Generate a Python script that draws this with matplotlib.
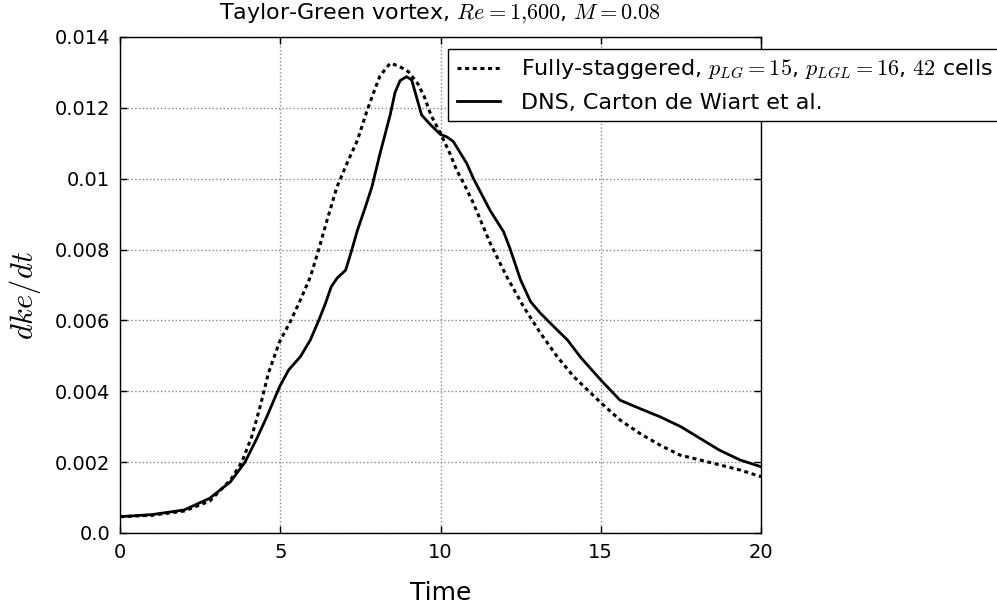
import matplotlib
matplotlib.use("Agg")
import matplotlib.pyplot as plt

plt.rcParams['font.family'] = ['DejaVu Sans']
plt.rcParams['mathtext.fontset'] = 'cm'

# Fully-staggered, p_LG=15, p_LGL=16, 42 cells (dotted)
t_fs = [0, 1, 2, 2.8, 3.45, 3.8, 4.11, 4.37, 4.63, 4.98, 5.31, 5.63, 5.94, 6.2, 6.46,
        6.77, 7.08, 7.41, 7.7, 7.9, 8.11, 8.43, 8.7, 9.0, 9.3, 9.5, 9.7, 10.0, 10.3,
        10.5, 10.72, 11.03, 11.55, 12.07, 12.59, 13.12, 13.64, 14.16, 15.0, 15.6,
        16.22, 16.85, 17.47, 18.1, 18.72, 19.34, 20.0]
v_fs = [0.00046, 0.0005, 0.00062, 0.0009, 0.0015, 0.002, 0.00272, 0.00356, 0.00451,
        0.0054, 0.00596, 0.00658, 0.00723, 0.008, 0.00883, 0.00977, 0.01043, 0.01109,
        0.0119, 0.0124, 0.0129, 0.01326, 0.01318, 0.01302, 0.01267, 0.0123, 0.0118,
        0.01128, 0.0107, 0.01025, 0.00988, 0.0093, 0.00818, 0.00723, 0.00639, 0.00564,
        0.00498, 0.00441, 0.00368, 0.00319, 0.00281, 0.00248, 0.0022, 0.00206, 0.00192,
        0.00178, 0.00159]

# DNS, Carton de Wiart et al. (solid)
t_dns = [0, 1, 2, 2.8, 3.45, 3.9, 4.27, 4.58, 4.98, 5.26, 5.63, 5.94, 6.2, 6.41, 6.59,
         6.77, 7.04, 7.2, 7.41, 7.66, 7.86, 8.11, 8.43, 8.58, 8.74, 8.94, 9.1, 9.25,
         9.41, 9.67, 10.0, 10.2, 10.4, 10.82, 11.03, 11.55, 11.97, 12.18, 12.5, 12.81,
         13.12, 13.54, 13.96, 14.38, 15.0, 15.6, 16.2, 16.85, 17.5, 18.1, 18.7, 19.35,
         20.0]
v_dns = [0.00046, 0.00052, 0.00065, 0.00098, 0.00145, 0.002, 0.00267, 0.00328, 0.00413,
         0.0046, 0.00498, 0.00545, 0.006, 0.00648, 0.00695, 0.00719, 0.00742, 0.00789,
         0.00855, 0.00921, 0.00977, 0.0107, 0.0118, 0.01243, 0.01277, 0.01288, 0.01279,
         0.01231, 0.0118, 0.01154, 0.01125, 0.01118, 0.01105, 0.01043, 0.0100, 0.0091,
         0.0085, 0.008, 0.00714, 0.00653, 0.0062, 0.00582, 0.00545, 0.00495, 0.00432,
         0.00375, 0.00352, 0.00328, 0.003, 0.00267, 0.00234, 0.00206, 0.00187]

x_ticks = [0, 5, 10, 15, 20]
x_tick_labels = ["0", "5", "10", "15", "20"]
y_ticks = [0.0, 0.002, 0.004, 0.006, 0.008, 0.01, 0.012, 0.014]
y_tick_labels = ["0.0", "0.002", "0.004", "0.006", "0.008", "0.01", "0.012", "0.014"]

label_fs = "Fully-staggered, $p_{LG}=15$, $p_{LGL}=16$, $42$ cells"
label_dns = "DNS, Carton de Wiart et al."
title = "Taylor-Green vortex, $Re=1{,}600$, $M=0.08$"

fig = plt.figure(figsize=(9.97, 6.09), dpi=100)
ax = fig.add_axes([120/997, 76/609, 641/997, 496/609])

ax.plot(t_fs, v_fs, color='black', lw=2.2, linestyle=(0, (1.3, 1.2)),
        dash_capstyle='butt', label=label_fs)
ax.plot(t_dns, v_dns, color='black', lw=2.0, label=label_dns)

ax.set_xlim(0, 20)
ax.set_ylim(0, 0.014)
ax.set_xticks(x_ticks)
ax.set_xticklabels(x_tick_labels)
ax.set_yticks(y_ticks)
ax.set_yticklabels(y_tick_labels)
ax.tick_params(direction='in', top=True, right=True, length=5, width=1,
               labelsize=14, pad=7)
ax.grid(True, linestyle=':', color='#888888', lw=1)
for s in ax.spines.values():
    s.set_linewidth(1)
    s.set_color('black')

ax.set_xlabel("Time", fontsize=18, labelpad=14)
ax.set_ylabel("$dke/dt$", fontsize=22)
ax.yaxis.set_label_coords(-0.12, 0.48)
ax.set_title(title, fontsize=16, pad=13)

leg = fig.legend(loc='upper left', bbox_to_anchor=(448/997, 1 - 49/609),
                 borderaxespad=0, fontsize=16, fancybox=False, framealpha=1,
                 edgecolor='black', handlelength=1.95, handletextpad=0.95,
                 labelspacing=0.5, borderpad=0.4)
leg.get_frame().set_linewidth(1)

fig.savefig("out.png", dpi=100)
